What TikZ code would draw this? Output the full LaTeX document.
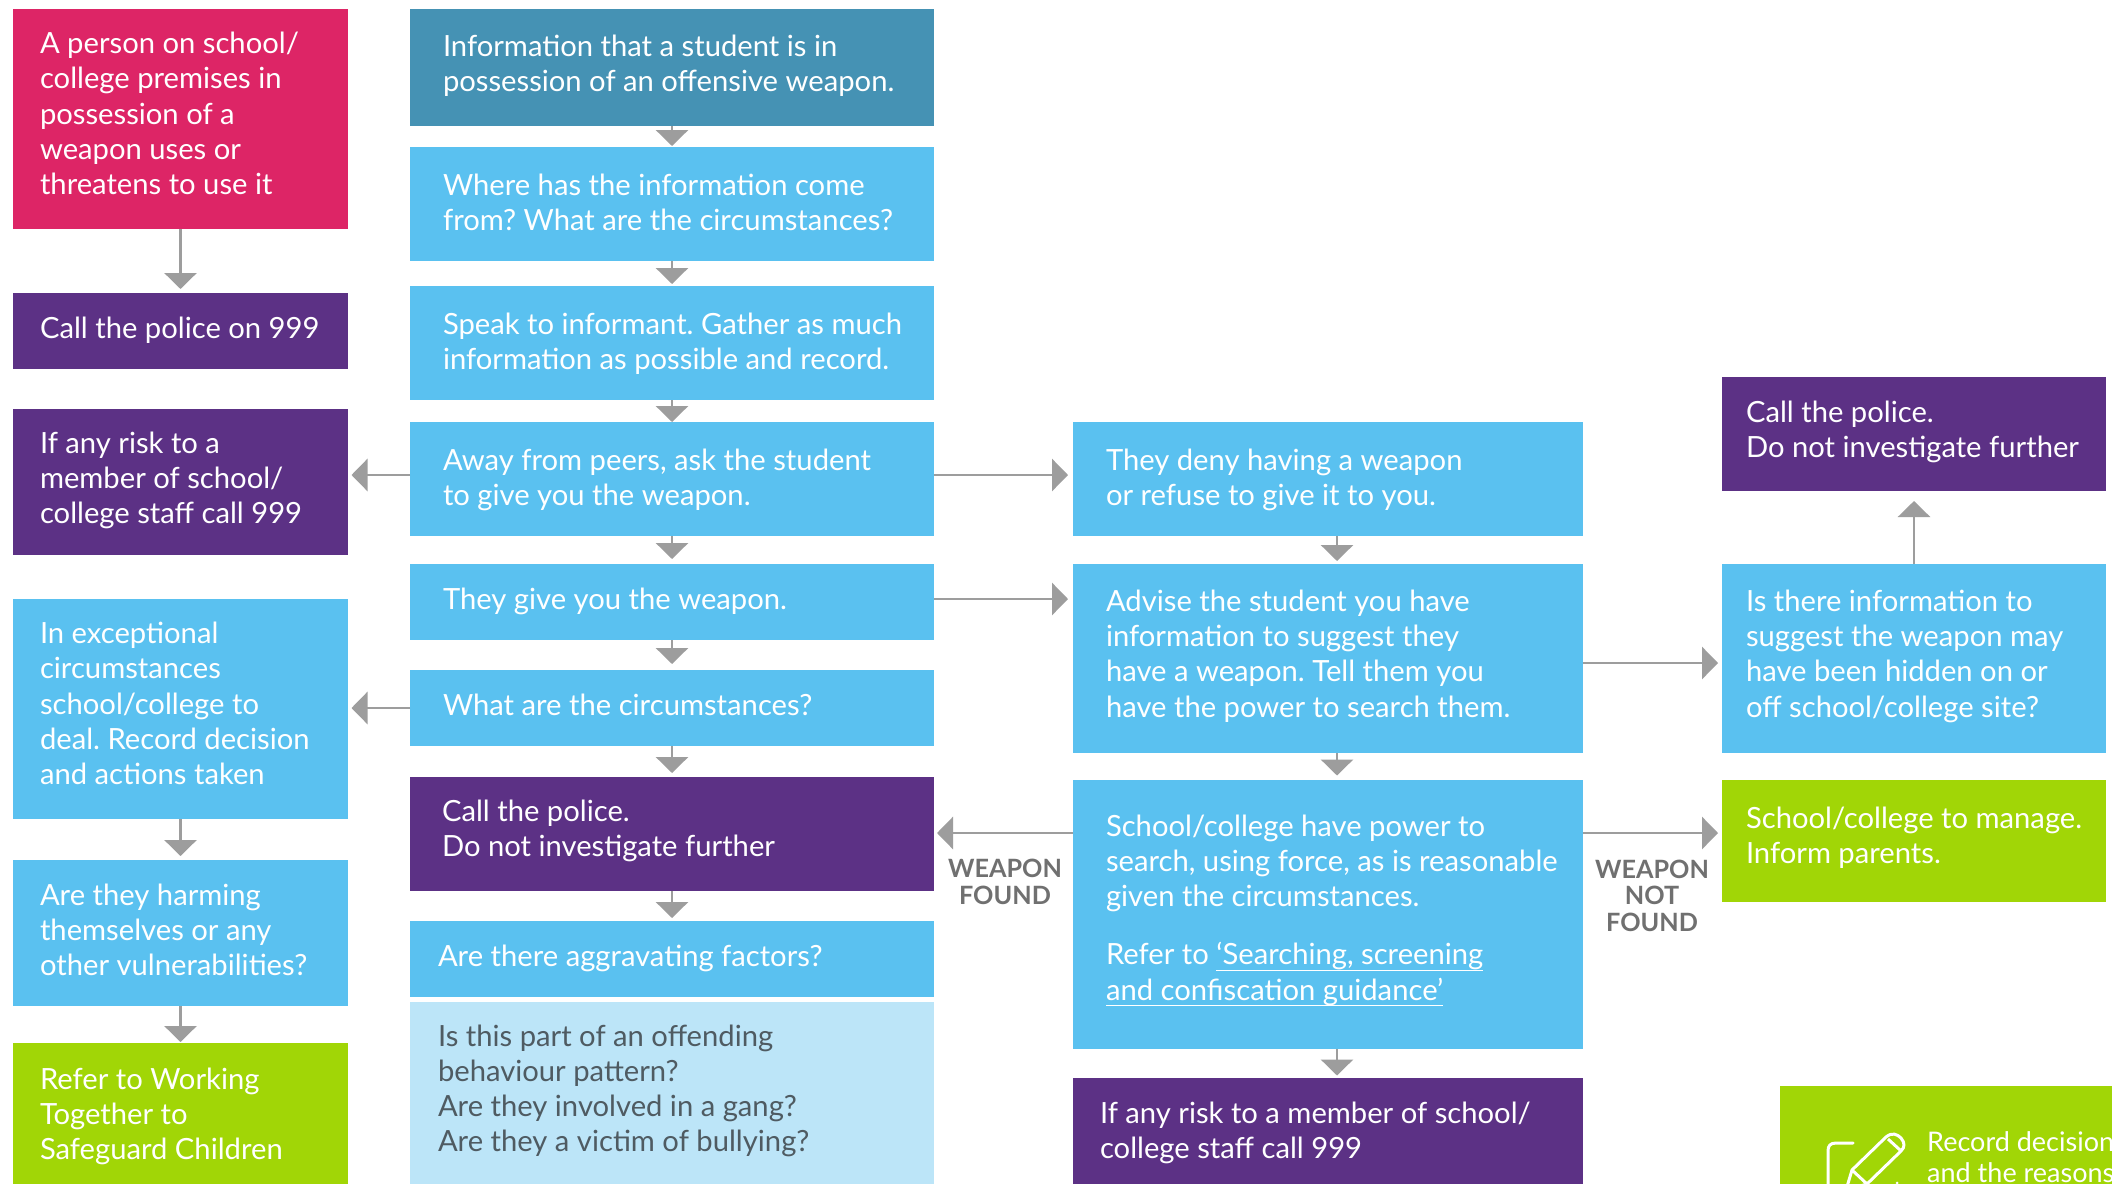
\documentclass[tikz,border=0pt]{standalone}
\usepackage{fontspec}
\setmainfont{Lato}
\usetikzlibrary{arrows.meta,calc}
\definecolor{cblue}{HTML}{5AC1F0}
\definecolor{cteal}{HTML}{4592B4}
\definecolor{cpurple}{HTML}{5C3185}
\definecolor{cred}{HTML}{DD2566}
\definecolor{cgreen}{HTML}{A1D606}
\definecolor{clight}{HTML}{BCE5F8}
\definecolor{cgrey}{HTML}{9D9D9D}
\definecolor{cdark}{HTML}{4F5B62}
\definecolor{clab}{HTML}{707070}
\tikzset{x=1pt,y=1pt,
 flowbox/.style={anchor=north west,inner sep=0pt,outer sep=0pt,text=white},
 arr/.style={draw=cgrey,line width=2.8pt,-{Triangle[width=32pt,length=16pt]}},
 lab/.style={inner sep=0pt,align=center,text=clab,font=\fontsize{25.2}{26.5}\selectfont\bfseries}}
\newlength\bw \newlength\bh
\newcommand\flow[9]{%
 \pgfmathsetlength\bw{#4-#2}\pgfmathsetlength\bh{#5-#3}%
 \node[flowbox,fill=#6] (#1) at (#2,-#3) {\parbox[c][\bh][t]{\bw}{\fontsize{29.2}{35.3}\selectfont\frenchspacing\parindent=0pt\leftskip=#7pt\rightskip=0pt plus 1fil\rule{0pt}{#8pt}#9\par}};}
\newcommand\ulin[1]{\setbox0\hbox{#1}\rlap{\rule[-6pt]{\wd0}{1.2pt}}\box0 }
\begin{document}
\begin{tikzpicture}
\useasboundingbox (0,0) rectangle (2112,-1184);
\clip (0,0) rectangle (2112,-1184);
\fill[white] (0,0) rectangle (2112,-1184);
\flow{red}{13}{9}{348}{229}{cred}{27}{44.6}{A person on school/\\college premises in\\possession of a\\weapon uses or\\threatens to use it}
\flow{pol}{13}{293}{348}{369}{cpurple}{27}{45}{Call the police on 999}
\flow{risk}{13}{409}{348}{555}{cpurple}{27}{44}{If any risk to a\\member of school/\\college staff call 999}
\flow{exc}{13}{599}{348}{819}{cblue}{27}{44.4}{In exceptional\\circumstances\\school/college to\\deal. Record decision\\and actions taken}
\flow{harm}{13}{860}{348}{1006}{cblue}{27}{45}{Are they harming\\themselves or any\\other vulnerabilities?}
\flow{ref}{13}{1043}{348}{1184}{cgreen}{27}{46}{Refer to Working\\Together to\\Safeguard Children}
\flow{info}{410}{9}{934}{126}{cteal}{33}{47}{Information that a student is in\\possession of an offensive weapon.}
\flow{where}{410}{147}{934}{261}{cblue}{33}{48}{Where has the information come\\from? What are the circumstances?}
\flow{speak}{410}{286}{934}{400}{cblue}{33}{48}{Speak to informant. Gather as much\\information as possible and record.}
\flow{away}{410}{422}{934}{536}{cblue}{33}{48}{Away from peers, ask the student\\to give you the weapon.}
\flow{give}{410}{564}{934}{640}{cblue}{33}{45}{They give you the weapon.}
\flow{what}{410}{670}{934}{746}{cblue}{33}{45}{What are the circumstances?}
\flow{call}{410}{777}{934}{891}{cpurple}{32}{44}{Call the police.\\Do not investigate further}
\flow{agg}{410}{921}{934}{997}{cblue}{28}{45}{Are there aggravating factors?}
\flow{light}{410}{1002}{934}{1184}{clight}{28}{44}{\color{cdark}Is this part of an offending\\behaviour pattern?\\Are they involved in a gang?\\Are they a victim of bullying?}
\flow{deny}{1073}{422}{1583}{536}{cblue}{33}{48}{They deny having a weapon\\or refuse to give it to you.}
\flow{adv}{1073}{564}{1583}{753}{cblue}{33}{47.3}{Advise the student you have\\information to suggest they\\have a weapon. Tell them you\\have the power to search them.}
\flow{sch}{1073}{780}{1583}{1049}{cblue}{33}{56}{School/college have power to\\search, using force, as is reasonable\\given the circumstances.\\[23pt]Refer to \ulin{‘Searching, screening}\\\ulin{and confiscation guidance’}}
\flow{risktwo}{1073}{1078}{1583}{1184}{cpurple}{27}{45}{If any risk to a member of school/\\college staff call 999}
\flow{calltwo}{1722}{377}{2106}{491}{cpurple}{24}{45}{Call the police.\\Do not investigate further}
\flow{hid}{1722}{564}{2106}{753}{cblue}{24}{47.3}{Is there information to\\suggest the weapon may\\have been hidden on or\\off school/college site?}
\flow{man}{1722}{780}{2106}{902}{cgreen}{24}{48}{School/college to manage.\\Inform parents.}
\node[flowbox,fill=cgreen,minimum width=332pt,minimum height=98pt] (rec) at (1780,-1086) {};
\node[anchor=base west,inner sep=0pt,text=white,align=left,font=\fontsize{27}{31}\selectfont] (rectxt) at (1927,-1182) {Record decision\\and the reasons};
% pencil icon
\draw[white,line width=3pt,line cap=round,line join=round] (1853,-1143) -- (1836,-1143) .. controls (1830,-1143) and (1828,-1146) .. (1828,-1151) -- (1828,-1195);
\draw[white,line width=3pt,line join=round,line cap=round] (1846,-1190) -- (1852,-1170) -- (1886,-1137) .. controls (1892,-1132) and (1897,-1134) .. (1901,-1138) .. controls (1905,-1143) and (1905,-1147) .. (1901,-1151) -- (1867,-1184) -- (1846,-1190);
\draw[white,line width=3pt] (1852,-1170) -- (1867,-1184);
\draw[white,line width=3pt] (1888,-1139) -- (1900,-1150);
\fill[white] (1897,-1183) circle (1.5);
% connectors
\draw[arr] (red) -- ([yshift=4pt]pol.north);
\draw[arr] (exc) -- ([yshift=4pt]harm.north);
\draw[arr] (harm) -- ([yshift=1pt]ref.north);
\draw[arr] (info) -- ([yshift=1pt]where.north);
\draw[arr] (where) -- ([yshift=2pt]speak.north);
\draw[arr] (speak) -- (away.north);
\draw[arr] (away) -- ([yshift=5pt]give.north);
\draw[arr] (give) -- ([yshift=6pt]what.north);
\draw[arr] (what) -- ([yshift=4pt]call.north);
\draw[arr] (call) -- ([yshift=3pt]agg.north);
\draw[arr] ([yshift=4pt]away.west) -- ([yshift=4pt,xshift=3.5pt]away.west -| risk.east);
\draw[arr] (what.west) -- ([xshift=3.5pt]what.west -| exc.east);
\draw[arr] ([yshift=4pt]away.east) -- ([yshift=4pt,xshift=-5pt]away.east -| deny.west);
\draw[arr] ([yshift=3pt]give.east) -- ([yshift=3pt,xshift=-5pt]give.east -| adv.west);
\draw[arr] ([yshift=216pt]sch.south west) -- ([yshift=216pt,xshift=3pt]sch.south west -| call.east);
\draw[arr] ([yshift=216pt]sch.south east) -- ([yshift=216pt,xshift=-4pt]sch.south east -| man.west);
\draw[arr] ([yshift=-4.5pt]adv.east) -- ([yshift=-4.5pt,xshift=-4pt]adv.east -| hid.west);
\draw[arr] (hid.north) -- ([yshift=-10pt]calltwo.south);
\draw[arr] ([xshift=9pt]deny.south) -- ([xshift=9pt,yshift=3pt]adv.north);
\draw[arr] ([xshift=9pt]adv.south) -- ([xshift=9pt,yshift=4.5pt]sch.north);
\draw[arr] ([xshift=9pt]sch.south) -- ([xshift=9pt,yshift=2.5pt]risktwo.north);
\node[lab,anchor=base] (wf) at (1005,-904) {WEAPON\\FOUND};
\node[lab,anchor=base] (wnf) at (1652,-931) {WEAPON\\NOT\\FOUND};
\end{tikzpicture}
\end{document}
